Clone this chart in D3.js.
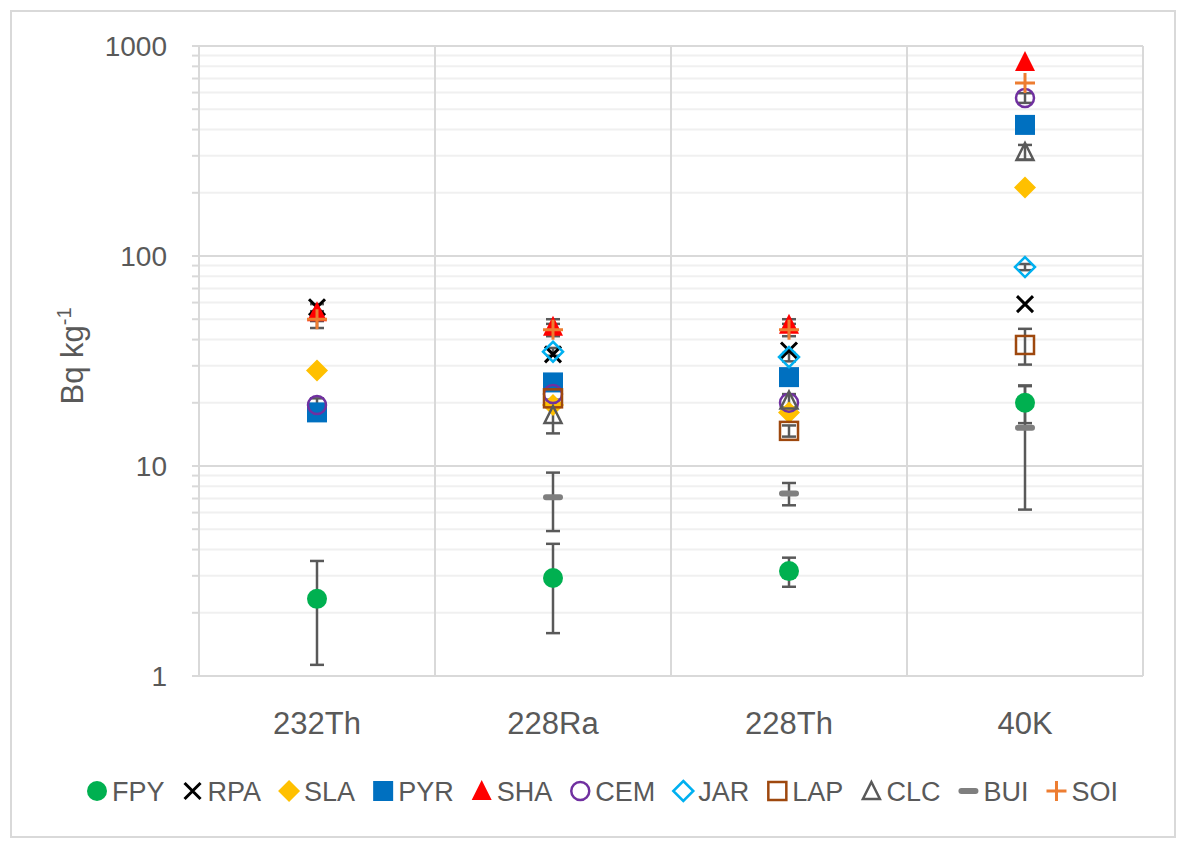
<!DOCTYPE html>
<html><head><meta charset="utf-8">
<script src="https://cdn.jsdelivr.net/npm/d3@7"></script>
<style>body{margin:0;background:#fff}svg{display:block}text{font-family:"Liberation Sans",Arial,sans-serif;fill:#595959}</style>
</head><body>
<script>
const categories = ["232Th","228Ra","228Th","40K"];
const seriesNames = ["FPY","RPA","SLA","PYR","SHA","CEM","JAR","LAP","CLC","BUI","SOI"];
const FPY = [2.33, 2.93, 3.16, 20.0];
const RPA = [57, 34, 35.5, 59];
const SLA = [28.5, 19.5, 18, 212];
const PYR = [18, 25, 26.5, 421];
const SHA = [54, 46, 47, 840];
const CEM = [19.5, 22, 20, 566];
const JAR = [null, 35, 33, 88.6];
const LAP = [null, 21, 14.7, 37.7];
const CLC = [null, 17.5, 20.5, 313];
const BUI = [null, 7.1, 7.4, 15.2];
const SOI = [50, 44.5, 44.5, 666];
const FPY_err = [1.2, 1.33, 0.5, 4.0];
const CEM_err = [1.5, null, null, 30];
const JAR_err = [null, 1.5, 1.5, 3];
const LAP_err = [null, null, 0.9, 7.3];
const CLC_err = [null, 3.2, 1.5, 25];
const BUI_err = [null, 2.2, 0.9, 9.0];
const SOI_err = [4.6, 3, 3, null];
const SHA_err = [5, 4, 3, null];
const yTicks = [1, 10, 100, 1000];

const series = [
  {name:"FPY", v:FPY, e:FPY_err, shape:"circle", color:"#00B050"},
  {name:"RPA", v:RPA, e:null, shape:"x", color:"#000000"},
  {name:"SLA", v:SLA, e:null, shape:"diamond", color:"#FFC000"},
  {name:"PYR", v:PYR, e:null, shape:"square", color:"#0070C0"},
  {name:"SHA", v:SHA, e:SHA_err, shape:"triangle", color:"#FF0000"},
  {name:"CEM", v:CEM, e:CEM_err, shape:"ocircle", color:"#7030A0"},
  {name:"JAR", v:JAR, e:JAR_err, shape:"odiamond", color:"#00B0F0"},
  {name:"LAP", v:LAP, e:LAP_err, shape:"osquare", color:"#9E480E"},
  {name:"CLC", v:CLC, e:CLC_err, shape:"otriangle", color:"#595959"},
  {name:"BUI", v:BUI, e:BUI_err, shape:"dash", color:"#7F7F7F"},
  {name:"SOI", v:SOI, e:SOI_err, shape:"plus", color:"#ED7D31"}
];

const W=1186, H=848;
const svg = d3.select("body").append("svg").attr("width",W).attr("height",H);
svg.append("rect").attr("x",11).attr("y",11).attr("width",1164).attr("height",826)
  .attr("fill","#fff").attr("stroke","#d9d9d9").attr("stroke-width",2);

const L=199, R=1143, T=46, B=676;
const x = d3.scaleBand().domain(categories).range([L,R]);
const y = d3.scaleLog().domain([1,1000]).range([B,T]);

// minor grid
const minor=[];
for (let d=1; d<1000; d*=10) for (let k=2;k<=9;k++) minor.push(d*k);
svg.append("g").selectAll("line").data(minor).join("line")
  .attr("x1",L).attr("x2",R).attr("y1",d=>y(d)).attr("y2",d=>y(d))
  .attr("stroke","#f0f0f0").attr("stroke-width",2);
svg.append("g").selectAll("line").data(minor).join("line")
  .attr("x1",L-7).attr("x2",L).attr("y1",d=>y(d)).attr("y2",d=>y(d))
  .attr("stroke","#d9d9d9").attr("stroke-width",2);
// major grid
svg.append("g").selectAll("line").data(yTicks).join("line")
  .attr("x1",L-7).attr("x2",R).attr("y1",d=>y(d)).attr("y2",d=>y(d))
  .attr("stroke","#d9d9d9").attr("stroke-width",2);
// vertical grid at category boundaries
const bounds = categories.map(c=>x(c)).concat([R]);
svg.append("g").selectAll("line").data(bounds).join("line")
  .attr("x1",d=>d).attr("x2",d=>d).attr("y1",T).attr("y2",B)
  .attr("stroke","#d9d9d9").attr("stroke-width",2);

// y tick labels
svg.append("g").selectAll("text").data(yTicks).join("text")
  .attr("x",167).attr("y",d=>y(d)).attr("dy","0.36em").attr("text-anchor","end")
  .attr("font-size",28).text(d=>d);
// x labels
svg.append("g").selectAll("text").data(categories).join("text")
  .attr("x",d=>x(d)+x.bandwidth()/2).attr("y",734).attr("text-anchor","middle")
  .attr("font-size",31).text(d=>d);
// y title
const yt = svg.append("text").attr("transform","translate(83,356) rotate(-90)")
  .attr("text-anchor","middle").attr("font-size",31);
yt.append("tspan").text("Bq kg");
yt.append("tspan").attr("dy",-12).attr("font-size",20).text("-1");

function drawMarker(g, shape, color){
  switch(shape){
    case "circle": g.append("circle").attr("r",10).attr("fill",color); break;
    case "ocircle": g.append("circle").attr("r",9).attr("fill","none").attr("stroke",color).attr("stroke-width",2.5); break;
    case "square": g.append("rect").attr("x",-10).attr("y",-10).attr("width",20).attr("height",20).attr("fill",color); break;
    case "osquare": g.append("rect").attr("x",-9).attr("y",-9).attr("width",18).attr("height",18).attr("fill","none").attr("stroke",color).attr("stroke-width",2.5); break;
    case "diamond": g.append("path").attr("d","M0,-11L11,0L0,11L-11,0Z").attr("fill",color); break;
    case "odiamond": g.append("path").attr("d","M0,-10L10,0L0,10L-10,0Z").attr("fill","none").attr("stroke",color).attr("stroke-width",2.5); break;
    case "triangle": g.append("path").attr("d","M0,-11L10,9L-10,9Z").attr("fill",color); break;
    case "otriangle": g.append("path").attr("d","M0,-9L8.5,8L-8.5,8Z").attr("fill","none").attr("stroke",color).attr("stroke-width",2.5); break;
    case "dash": g.append("rect").attr("x",-10).attr("y",-3).attr("width",20).attr("height",6).attr("rx",3).attr("fill",color); break;
    case "x": g.append("path").attr("d","M-8,-8L8,8M8,-8L-8,8").attr("stroke",color).attr("stroke-width",3).attr("fill","none"); break;
    case "plus": g.append("path").attr("d","M-10,0L10,0M0,-10L0,10").attr("stroke",color).attr("stroke-width",3).attr("fill","none"); break;
  }
}

// error bars
const eg = svg.append("g");
series.forEach(s=>{
  if(!s.e) return;
  categories.forEach((c,i)=>{
    const v=s.v[i], e=s.e[i];
    if(v==null||e==null) return;
    const cx=x(c)+x.bandwidth()/2;
    const y1=y(v+e), y0=y(Math.max(v-e,1));
    eg.append("line").attr("x1",cx).attr("x2",cx).attr("y1",y1).attr("y2",y0).attr("stroke","#595959").attr("stroke-width",2.5);
    eg.append("line").attr("x1",cx-7).attr("x2",cx+7).attr("y1",y1).attr("y2",y1).attr("stroke","#595959").attr("stroke-width",2.5);
    if(v-e>1) eg.append("line").attr("x1",cx-7).attr("x2",cx+7).attr("y1",y0).attr("y2",y0).attr("stroke","#595959").attr("stroke-width",2.5);
  });
});
// markers
series.forEach(s=>{
  categories.forEach((c,i)=>{
    const v=s.v[i]; if(v==null) return;
    const g=svg.append("g").attr("transform",`translate(${x(c)+x.bandwidth()/2},${y(v)})`);
    drawMarker(g,s.shape,s.color);
  });
});
// legend
const lg = svg.append("g");
const items=[];
series.forEach(s=>{
  const g=lg.append("g");
  drawMarker(g.append("g").attr("transform","translate(10,0)"),s.shape,s.color);
  const t=g.append("text").attr("x",25).attr("dy","0.36em").attr("font-size",27).text(s.name);
  const w=25+t.node().getComputedTextLength();
  items.push({g,w});
});
const legL=87, legR=1118;
const gap=(legR-legL-d3.sum(items,d=>d.w))/(items.length-1);
let pos=legL;
items.forEach(it=>{ it.g.attr("transform",`translate(${pos},791)`); pos+=it.w+gap; });
</script>
</body></html>
